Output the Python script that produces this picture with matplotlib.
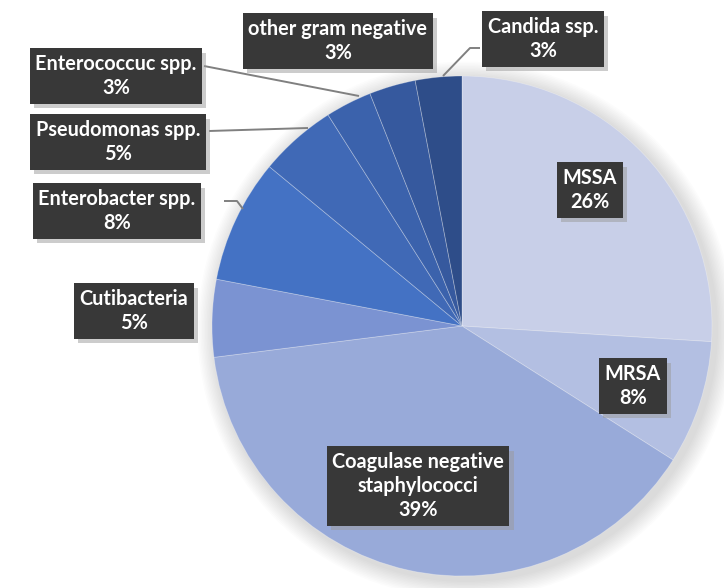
import matplotlib
matplotlib.use("Agg")
import matplotlib.pyplot as plt
import matplotlib.patheffects as pe
from matplotlib.patches import Circle

categories = ["MSSA", "MRSA", "Coagulase negative\nstaphylococci", "Cutibacteria",
              "Enterobacter spp.", "Pseudomonas spp.", "Enterococcuc spp.",
              "other gram negative", "Candida ssp."]
values = [26, 8, 39, 5, 8, 5, 3, 3, 3]
colors = ["#c8cfe8", "#b3bfe2", "#98aad9", "#7b93d2", "#4472c4",
          "#4069b6", "#3b62ac", "#36599e", "#2e4d89"]

W, H = 724, 588
fig = plt.figure(figsize=(W / 100, H / 100), dpi=100)
ax = fig.add_axes([0, 0, 1, 1])
ax.set_xlim(0, W)
ax.set_ylim(0, H)
ax.set_aspect("equal")
ax.axis("off")

cx, cy, r = 462, H - 326, 250

# soft shadow around pie
for i in range(12):
    ax.add_patch(Circle((cx + 4, cy - 4), r + 2 + i * 1.5, color="#000000",
                        alpha=0.012, lw=0, zorder=0))

wedges, _ = ax.pie(values, colors=colors, startangle=90, counterclock=False,
                   center=(cx, cy), radius=r, frame=True,
                   wedgeprops=dict(edgecolor=(1, 1, 1, 0.3), linewidth=0.6))
ax.set_xlim(0, W)
ax.set_ylim(0, H)
ax.axis("off")

# label box centres (pixel coordinates, y from top)
label_pos = [(590, 190), (633, 386), (418, 486), (134, 311), (117, 211),
             (118, 142), (116, 76), (338, 41), (543, 39)]

for cat, v, (px, py) in zip(categories, values, label_pos):
    t = ax.text(px, H - py, f"{cat}\n{v}%", ha="center", va="center",
                color="white", fontsize=14.3, fontweight="bold", family="Lato",
                linespacing=1.25, zorder=5,
                bbox=dict(boxstyle="square,pad=0.28", facecolor="#383838",
                          edgecolor="none"))
    t.get_bbox_patch().set_path_effects(
        [pe.SimplePatchShadow(offset=(3, -3), shadow_rgbFace="#9a9a9a", alpha=0.5),
         pe.Normal()])

# leader lines (pixel coords, y from top)
leaders = [
    [(204, 66), (359, 96)],
    [(209, 131), (308, 128)],
    [(224, 201), (237, 201), (243, 209)],
    [(480, 48), (470, 48), (443, 76)],
]
for pts in leaders:
    xs = [p[0] for p in pts]
    ys = [H - p[1] for p in pts]
    ax.plot(xs, ys, color="#808080", lw=1.4, zorder=4, solid_capstyle="butt")

fig.savefig("out.png", dpi=100)
